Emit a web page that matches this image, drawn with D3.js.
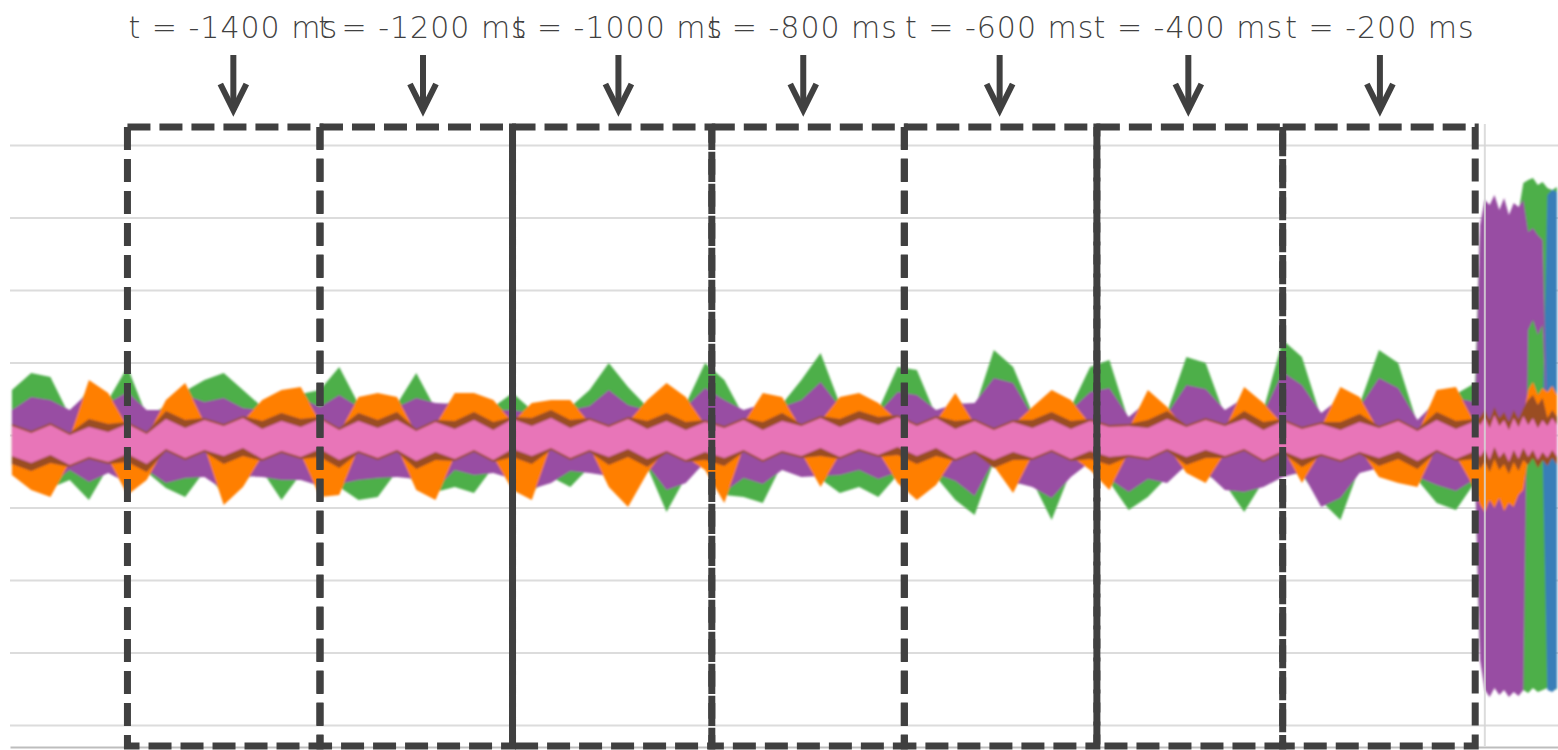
<!DOCTYPE html>
<html lang="en">
<head>
<meta charset="UTF-8">
<title>Analysis windows before onset</title>
<script src="https://d3js.org/d3.v7.min.js"></script>
<style>
  body { margin: 0; background: #fff; }
  .label {
    font-family: "DejaVu Sans", sans-serif;
    font-weight: 300;
    font-size: 30px;
    letter-spacing: 1px;
    fill: #404040;
  }
  .grid line { stroke: #dcdcdc; stroke-width: 2px; }
  .grid .domain { display: none; }
</style>
</head>
<body>
<div id="chart"></div>
<script>
// sample times in ms (every 20 ms, then every 5 ms in the burst at the end)
const times = [
  -1620,-1600,-1580,-1560,-1540,-1520,-1500,-1480,-1460,-1440,-1420,-1400,-1380,-1360,-1340,-1320,
  -1300,-1280,-1260,-1240,-1220,-1200,-1180,-1160,-1140,-1120,-1100,-1080,-1060,-1040,-1020,-1000,
  -980,-960,-940,-920,-900,-880,-860,-840,-820,-800,-780,-760,-740,-720,-700,-680,-660,-640,-620,
  -600,-580,-560,-540,-520,-500,-480,-460,-440,-420,-400,-380,-360,-340,-320,-300,-280,-260,-240,
  -220,-200,-180,-160,-140,-120,-100,
  -95,-90,-85,-80,-75,-70,-65,-60,-55,-50,-45,-40,-35,-30,-25,-20,-15
];

// envelope of each channel (upper / lower amplitude, arbitrary units)
const greenHi = [45,62,58,19,47,35,68,19,29,44, 55,62,45,28,38,41,45,68,31,35, 31,62,26,35,35,28,42,25,29,28,
  45,72,48,28,45,31,72,55,19,35, 31,55,82,31,35,25,68,65,19,35, 26,85,68,22,38,28,68,75,14,38,
  23,78,72,19,41,25,95,78,17,41, 31,85,72,11,38,41,52,
  205,230,225,235,220,232,215,227,223,252,255,257,250,253,247,245,248];
const greenLo = [-32,-47,-53,-45,-65,-32,-52,-37,-53,-62, -36,-60,-45,-36,-65,-39,-54,-52,-65,-62,
  -36,-47,-57,-52,-58,-32,-47,-57,-42,-52, -32,-44,-63,-32,-77,-42,-29,-60,-62,-68,
  -29,-36,-44,-58,-52,-62,-40,-57,-42,-65, -80,-26,-50,-46,-85,-36,-29,-47,-75,-62,
  -42,-32,-40,-49,-77,-46,-36,-40,-66,-85, -32,-35,-40,-45,-68,-75,-47,
  -220,-250,-257,-248,-255,-250,-257,-252,-257,-255,-258,-253,-257,-255,-253,-255,-254];

const purpleHi = [25,38,35,25,43,32,43,25,25,40, 33,37,27,25,34,37,28,40,28,31, 28,37,32,31,31,25,25,22,25,25,
  29,45,30,25,41,28,47,35,25,31, 28,35,53,28,31,22,43,40,25,31, 32,57,52,19,34,25,43,47,18,34,
  21,50,46,25,37,22,63,50,22,37, 28,57,47,15,34,37,33,
  210,235,230,240,225,237,220,232,228,235,203,207,200,195,5,10,5];
const purpleLo = [-30,-43,-50,-35,-47,-38,-48,-35,-48,-43, -42,-55,-41,-42,-45,-45,-51,-49,-45,-43,
  -42,-44,-54,-35,-40,-38,-44,-54,-48,-36, -38,-41,-59,-30,-55,-48,-27,-57,-43,-49,
  -35,-42,-41,-40,-35,-44,-37,-54,-39,-46, -61,-25,-47,-52,-63,-42,-27,-44,-57,-44,
  -48,-30,-37,-55,-57,-52,-42,-37,-72,-63, -38,-33,-37,-42,-50,-56,-44,
  -225,-255,-262,-253,-260,-255,-262,-257,-261,-255,105,115,100,110,-13,-10,-13];

const orangeHi = [6,-1,7,-3,55,42,8,-2,35,52, 12,6,14,35,45,48,13,2,38,42, 38,1,10,42,42,35,13,32,35,35,
  12,5,13,35,52,38,10,4,12,42, 38,6,14,38,42,32,15,6,14,42, 11,2,10,28,45,35,11,5,6,45,
  28,5,12,6,48,32,11,3,8,48, 38,4,11,1,45,48,11,
  10,17,7,20,9,15,5,17,8,19,45,53,40,47,43,49,40];
const orangeLo = [-40,-55,-62,-27,-19,-24,-60,-45,-11,-20, -12,-70,-52,-21,-13,-19,-62,-60,-13,-20,
  -12,-55,-65,-21,-12,-22,-55,-65,-10,-20, -12,-52,-72,-38,-13,-22,-35,-68,-12,-22,
  -13,-18,-52,-19,-11,-17,-48,-65,-50,-21, -13,-31,-58,-20,-12,-21,-35,-55,-17,-20,
  -11,-38,-48,-18,-11,-22,-13,-48,-16,-22, -14,-42,-48,-52,-12,-21,-55,
  -70,-77,-65,-73,-63,-76,-68,-72,-60,-55,-22,-15,-25,-17,-23,-15,-22];

const brownHi = [11,4,12,2,16,11,13,3,24,15, 17,11,19,14,22,16,18,7,22,15, 23,6,15,14,23,13,18,17,25,15,
  17,10,18,14,22,13,15,9,17,13, 22,11,19,16,24,18,20,11,19,14, 16,7,15,15,23,14,16,10,11,15,
  24,10,17,11,24,13,16,8,13,13, 21,9,16,6,23,14,16,
  18,25,15,28,17,23,13,25,16,27,35,40,30,37,17,25,18];
const brownLo = [-29,-36,-28,-32,-24,-29,-27,-37,-16,-25, -17,-29,-21,-26,-18,-24,-22,-33,-18,-25,
  -17,-34,-25,-26,-17,-27,-22,-29,-15,-25, -17,-30,-22,-32,-18,-27,-25,-31,-17,-27,
  -18,-23,-21,-24,-16,-22,-20,-29,-21,-26, -18,-33,-25,-25,-17,-26,-24,-30,-22,-25,
  -16,-30,-23,-23,-16,-27,-18,-32,-21,-27, -19,-31,-24,-34,-17,-26,-24,
  -34,-27,-37,-24,-35,-29,-39,-27,-36,-25,-30,-23,-33,-25,-31,-23,-30];

const pinkHi = [9,2,10,0,8,3,11,1,16,7, 15,9,17,6,14,8,16,5,14,7, 15,4,13,6,15,5,16,9,17,7,
  15,8,16,6,14,5,13,7,15,5, 14,9,17,8,16,10,18,9,17,6, 14,5,13,7,15,6,14,8,9,7,
  16,8,15,9,16,5,14,6,11,5, 13,7,14,4,15,6,14,
  10,17,7,20,9,15,5,17,8,19,10,17,7,15,9,17,10];
const pinkLo = [-21,-28,-20,-30,-22,-27,-19,-29,-14,-23, -15,-21,-13,-24,-16,-22,-14,-25,-16,-23,
  -15,-26,-17,-24,-15,-25,-14,-21,-13,-23, -15,-22,-14,-24,-16,-25,-17,-23,-15,-25,
  -16,-21,-13,-22,-14,-20,-12,-21,-13,-24, -16,-25,-17,-23,-15,-24,-16,-22,-20,-23,
  -14,-22,-15,-21,-14,-25,-16,-24,-19,-25, -17,-23,-16,-26,-15,-24,-16,
  -22,-15,-25,-12,-23,-17,-27,-15,-24,-13,-22,-15,-25,-17,-23,-15,-22];

// the blue channel only shows in the burst
const blueTimes = [-35,-30,-25,-20,-15];
const blueHi = [5,5,240,245,243];
const blueLo = [-12,-12,-255,-257,-253];

// analysis windows, arrows and their labels
const windowStarts = [-1500,-1300,-1100,-893,-693,-493,-300];
const windowEnds   = [-1300,-1100,-893,-693,-493,-300,-100];
const arrowTimes = [-1390,-1193,-990,-798,-594,-398,-199];
const labels = ["t = -1400 ms","t = -1200 ms","t = -1000 ms","t = -800 ms","t = -600 ms","t = -400 ms","t = -200 ms"];
const onsetTime = -90;
const gridValues = [290,217.5,145,72.5,0,-72.5,-145,-217.5,-290];

// layout
const width = 1558, height = 750;
const plotLeft = 10, plotRight = 1558, plotTop = 127, plotBottom = 746;

const svg = d3.select("#chart").append("svg")
  .attr("width", width)
  .attr("height", height);

const x = d3.scaleLinear().domain([-1622, -14]).range([plotLeft, plotRight]);
const y = d3.scaleLinear().domain([-311, 308]).range([plotBottom, plotTop]);

// horizontal gridlines
svg.append("g")
  .attr("class", "grid")
  .attr("transform", `translate(${plotLeft},0)`)
  .call(d3.axisRight(y).tickValues(gridValues).tickSize(plotRight - plotLeft).tickFormat(""));

// bottom axis line
svg.append("g")
  .attr("transform", `translate(0,${plotBottom + 1})`)
  .call(d3.axisBottom(x).tickValues([]).tickSizeOuter(0))
  .select(".domain").attr("stroke", "#bdbdbd").attr("stroke-width", 2);

// channels, back to front
const series = [
  {color: "#4daf4a", t: times, hi: greenHi, lo: greenLo},
  {color: "#377eb8", t: blueTimes, hi: blueHi, lo: blueLo},
  {color: "#984ea3", t: times, hi: purpleHi, lo: purpleLo},
  {color: "#ff7f00", t: times, hi: orangeHi, lo: orangeLo},
  {color: "#9a4d22", t: times, hi: brownHi, lo: brownLo},
  {color: "#e874b8", t: times, hi: pinkHi, lo: pinkLo}
];

const area = d3.area()
  .x(d => x(d[0]))
  .y0(d => y(d[2]))
  .y1(d => y(d[1]));

const defs = svg.append("defs");
defs.append("filter").attr("id", "soft")
  .append("feGaussianBlur").attr("stdDeviation", 0.8);

svg.append("g")
  .attr("filter", "url(#soft)")
  .selectAll("path")
  .data(series)
  .join("path")
  .attr("fill", d => d.color)
  .attr("d", d => area(d.t.map((t, i) => [t, d.hi[i], d.lo[i]])));

// onset line
svg.append("line")
  .attr("x1", x(onsetTime)).attr("x2", x(onsetTime))
  .attr("y1", plotTop - 3).attr("y2", plotBottom)
  .attr("stroke", "#d6d6d6")
  .attr("stroke-width", 2)
  .attr("opacity", 0.85);

// dashed windows
svg.append("g")
  .selectAll("rect")
  .data(windowStarts)
  .join("rect")
  .attr("x", d => x(d))
  .attr("y", plotTop)
  .attr("width", (d, i) => x(windowEnds[i]) - x(d))
  .attr("height", plotBottom - plotTop)
  .attr("fill", "none")
  .attr("stroke", "#404040")
  .attr("stroke-width", 7)
  .attr("stroke-dasharray", "23 9");

// arrows
const arrowTop = 55, arrowTip = 113;
const arrows = svg.append("g")
  .attr("stroke", "#404040")
  .attr("fill", "none")
  .attr("stroke-width", 6);

arrows.selectAll("line")
  .data(arrowTimes)
  .join("line")
  .attr("x1", d => x(d)).attr("x2", d => x(d))
  .attr("y1", arrowTop).attr("y2", arrowTip - 3);

arrows.selectAll("path")
  .data(arrowTimes)
  .join("path")
  .attr("stroke-linejoin", "miter")
  .attr("d", d => `M${x(d) - 13},${arrowTip - 29} L${x(d)},${arrowTip - 3} L${x(d) + 13},${arrowTip - 29}`);

// labels
svg.append("g")
  .selectAll("text")
  .data(labels)
  .join("text")
  .attr("class", "label")
  .attr("x", (d, i) => x(arrowTimes[i]))
  .attr("y", 38)
  .attr("text-anchor", "middle")
  .text(d => d);
</script>
</body>
</html>
